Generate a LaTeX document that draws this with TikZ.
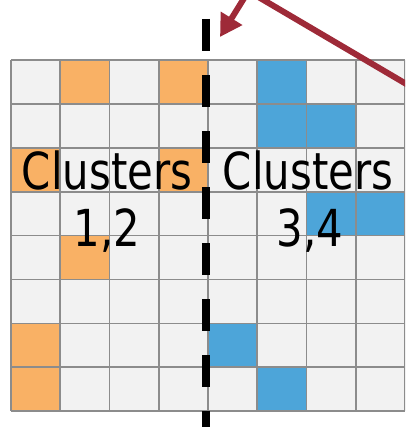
\documentclass[tikz,border=0pt]{standalone}
\usepackage{fontspec}
\newfontfamily\lblfont[FakeStretch=0.82]{DejaVu Sans}
\usetikzlibrary{arrows.meta}
\definecolor{cellgray}{HTML}{F2F2F2}
\definecolor{gridline}{HTML}{8C8C8C}
\definecolor{orangec}{HTML}{F9B165}
\definecolor{bluec}{HTML}{4DA5D9}
\definecolor{arrowred}{HTML}{9E2A38}
\begin{document}
\begin{tikzpicture}[x=1pt,y=-1pt,
  gridln/.style={draw=gridline,line width=1.7pt},
  lbl/.style={font=\lblfont\fontsize{51}{56}\selectfont,inner sep=0pt,anchor=base},
  redarrow/.style={draw=arrowred,line width=6pt},
  divider/.style={line width=8pt,dash pattern=on 32pt off 24pt}]
\useasboundingbox (0,0) rectangle (405,427);
\clip (0,0) rectangle (405,427);
\def\xo{11}\def\yo{60}\def\cw{49.25}\def\ch{43.9}
% background cells
\fill[cellgray] (\xo,\yo) rectangle ({\xo+8*\cw},{\yo+8*\ch});
\foreach \c/\r in {1/0,3/0,0/2,3/2,1/4,0/6,0/7}
  \fill[orangec] ({\xo+\c*\cw},{\yo+\r*\ch}) rectangle ({\xo+(\c+1)*\cw},{\yo+(\r+1)*\ch});
\foreach \c/\r in {5/0,5/1,6/1,6/3,7/3,4/6,5/7}
  \fill[bluec] ({\xo+\c*\cw},{\yo+\r*\ch}) rectangle ({\xo+(\c+1)*\cw},{\yo+(\r+1)*\ch});
% grid lines
\foreach \i in {0,...,8} {
  \draw[gridln] ({\xo+\i*\cw},\yo) -- ({\xo+\i*\cw},{\yo+8*\ch});
  \draw[gridln] (\xo,{\yo+\i*\ch}) -- ({\xo+8*\cw},{\yo+\i*\ch});
}
% labels
\node[lbl] (c12a) at (107,190) {Clusters};
\node[lbl] (c12b) at (107,246) {1,2};
\node[lbl] (c34a) at (308,190) {Clusters};
\node[lbl] (c34b) at (310,246) {3,4};
% divider
\coordinate (dtop) at (206,19);
\coordinate (dbot) at (206,440);
\draw[divider] (dtop) -- (dbot);
% red arrows
\coordinate (a1s) at (251,-13);
\coordinate (a1e) at (220,37);
\draw[redarrow,-{Triangle[length=22pt,width=24pt]}] (a1s) -- (a1e);
\coordinate (a2s) at (255,-5);
\coordinate (a2e) at (425,95);
\draw[redarrow] (a2s) -- (a2e);
\end{tikzpicture}
\end{document}
